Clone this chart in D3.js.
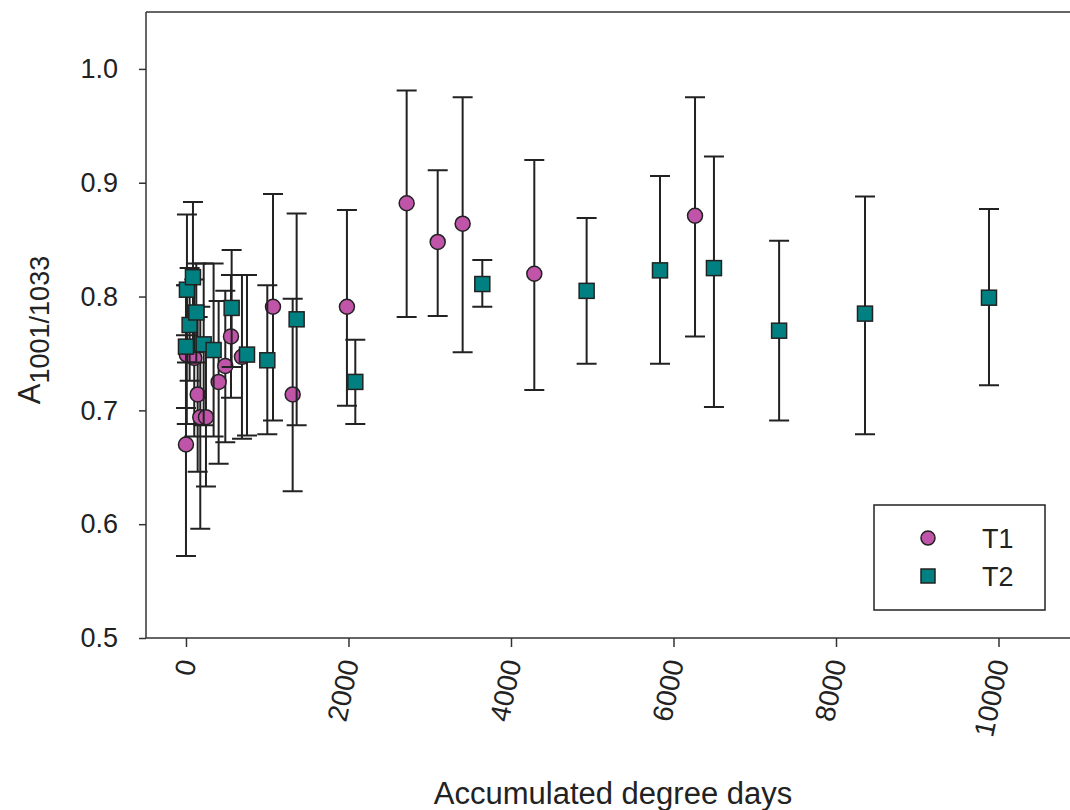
<!DOCTYPE html>
<html>
<head>
<meta charset="utf-8">
<script src="https://cdn.jsdelivr.net/npm/d3@7"></script>
<style>
  body { margin: 0; background: #fff; }
  svg text { font-family: "Liberation Sans", Arial, sans-serif; fill: #222; }
</style>
</head>
<body>
<div id="chart"></div>
<script>
(function(){
"use strict"

// T1 (circles)
var t1X  = [0, 10, 102, 144, 176, 246, 402, 484, 554, 689, 1071, 1313, 1981, 2716, 3098, 3405, 4287, 6265];
var t1Y  = [0.670, 0.749, 0.746, 0.714, 0.694, 0.694, 0.725, 0.739, 0.765, 0.747, 0.791, 0.714, 0.791, 0.882, 0.848, 0.864, 0.820, 0.871];
var t1Lo = [0.572, 0.688, 0.677, 0.646, 0.596, 0.633, 0.653, 0.672, 0.711, 0.675, 0.691, 0.629, 0.704, 0.782, 0.783, 0.751, 0.718, 0.765];
var t1Hi = [0.766, 0.810, 0.815, 0.782, 0.791, 0.755, 0.796, 0.805, 0.819, 0.819, 0.890, 0.798, 0.876, 0.981, 0.911, 0.975, 0.920, 0.975];

// T2 (squares)
var t2X  = [0, 12, 45, 86, 127, 218, 340, 562, 751, 1001, 1362, 2084, 3647, 4931, 5834, 6498, 7300, 8357, 9883];
var t2Y  = [0.756, 0.806, 0.775, 0.817, 0.786, 0.758, 0.753, 0.790, 0.749, 0.744, 0.780, 0.725, 0.811, 0.805, 0.823, 0.825, 0.770, 0.785, 0.799];
var t2Lo = [0.702, 0.742, 0.726, 0.751, 0.742, 0.687, 0.677, 0.738, 0.678, 0.679, 0.687, 0.688, 0.791, 0.741, 0.741, 0.703, 0.691, 0.679, 0.722];
var t2Hi = [0.810, 0.872, 0.825, 0.883, 0.829, 0.829, 0.829, 0.841, 0.819, 0.810, 0.873, 0.762, 0.832, 0.869, 0.906, 0.923, 0.849, 0.888, 0.877];

var xTicks = [0, 2000, 4000, 6000, 8000, 10000];
var yTicks = [0.5, 0.6, 0.7, 0.8, 0.9, 1.0];
var seriesNames = ["T1", "T2"];

var width = 1070, height = 810,
	left = 146, right = 1070, top = 12, bottom = 638;

var x = d3.scaleLinear().domain([-492, 10880]).range([left, right]);
var y = d3.scaleLinear().domain([0.5, 1.05]).range([bottom, top]);

var svg = d3.select('#chart').append('svg')
	.attr('width', width)
	.attr('height', height);

// frame: top and left
svg.append('line')
	.attr('x1', left).attr('x2', right).attr('y1', top).attr('y2', top)
	.style('stroke', '#333').style('stroke-width', 1.5);

// y axis
var yAxis = svg.append('g')
	.attr('transform', 'translate(' + left + ',0)')
	.call(d3.axisLeft(y).tickValues(yTicks).tickFormat(d3.format('.1f')).tickSize(7).tickPadding(21));
yAxis.select('.domain').attr('d', 'M0,' + top + 'V' + bottom).style('stroke', '#333').style('stroke-width', 1.5);
yAxis.selectAll('.tick line').style('stroke', '#333').style('stroke-width', 1.5);
yAxis.selectAll('.tick text').style('font-size', '27px').style('fill', '#222')
	.style('font-family', '"Liberation Sans", Arial, sans-serif');

// x axis
var xAxis = svg.append('g')
	.attr('transform', 'translate(0,' + bottom + ')')
	.call(d3.axisBottom(x).tickValues(xTicks).tickFormat(d3.format('d')).tickSize(9));
xAxis.select('.domain').attr('d', 'M' + left + ',0H' + right).style('stroke', '#333').style('stroke-width', 1.5);
xAxis.selectAll('.tick line').style('stroke', '#333').style('stroke-width', 1.5);
xAxis.selectAll('.tick text')
	.attr('y', 0).attr('dy', 0)
	.attr('text-anchor', 'end')
	.attr('transform', 'translate(10,24) rotate(-78)')
	.style('font-size', '28px').style('fill', '#222')
	.style('font-family', '"Liberation Sans", Arial, sans-serif');

// axis titles
svg.append('text')
	.attr('x', 613).attr('y', 804)
	.attr('text-anchor', 'middle')
	.style('font-size', '31px')
	.text('Accumulated degree days');

var yl = svg.append('text')
	.attr('transform', 'translate(40,330) rotate(-90)')
	.attr('text-anchor', 'middle')
	.style('font-size', '31px');
yl.append('tspan').text('A');
yl.append('tspan').attr('dy', 9).style('font-size', '27px').text('1001/1033');

function makeRows(xs, ys, lo, hi){
	return xs.map(function(d, i){ return {x: d, y: ys[i], lo: lo[i], hi: hi[i]}; });
}

function drawBars(rows){
	var g = svg.append('g').style('stroke', '#222').style('stroke-width', 2).style('fill', 'none');
	g.selectAll('path').data(rows).enter().append('path')
		.attr('d', function(d){
			var cx = x(d.x), yl = y(d.lo), yh = y(d.hi);
			return 'M' + cx + ',' + yl + 'V' + yh +
				'M' + (cx - 10) + ',' + yh + 'H' + (cx + 10) +
				'M' + (cx - 10) + ',' + yl + 'H' + (cx + 10);
		});
}

var t1Rows = makeRows(t1X, t1Y, t1Lo, t1Hi);
var t2Rows = makeRows(t2X, t2Y, t2Lo, t2Hi);

drawBars(t1Rows);
svg.append('g').selectAll('circle').data(t1Rows).enter().append('circle')
	.attr('cx', function(d){ return x(d.x); })
	.attr('cy', function(d){ return y(d.y); })
	.attr('r', 7.5)
	.style('fill', '#c054a8').style('stroke', '#222').style('stroke-width', 1.5);

drawBars(t2Rows);
svg.append('g').selectAll('rect').data(t2Rows).enter().append('rect')
	.attr('x', function(d){ return x(d.x) - 7.5; })
	.attr('y', function(d){ return y(d.y) - 7.5; })
	.attr('width', 15).attr('height', 15)
	.style('fill', '#008080').style('stroke', '#222').style('stroke-width', 1.5);

// legend
var lg = svg.append('g');
lg.append('rect')
	.attr('x', 874).attr('y', 505).attr('width', 171).attr('height', 105)
	.style('fill', 'none').style('stroke', '#222').style('stroke-width', 1.5);
lg.append('circle').attr('cx', 928).attr('cy', 538).attr('r', 7)
	.style('fill', '#c054a8').style('stroke', '#222').style('stroke-width', 1.5);
lg.append('rect').attr('x', 921).attr('y', 569).attr('width', 14).attr('height', 14)
	.style('fill', '#008080').style('stroke', '#222').style('stroke-width', 1.5);
lg.selectAll('text').data(seriesNames).enter().append('text')
	.attr('x', 982)
	.attr('y', function(d, i){ return 548 + i * 38; })
	.style('font-size', '27px')
	.text(function(d){ return d; });

})();
</script>
</body>
</html>
